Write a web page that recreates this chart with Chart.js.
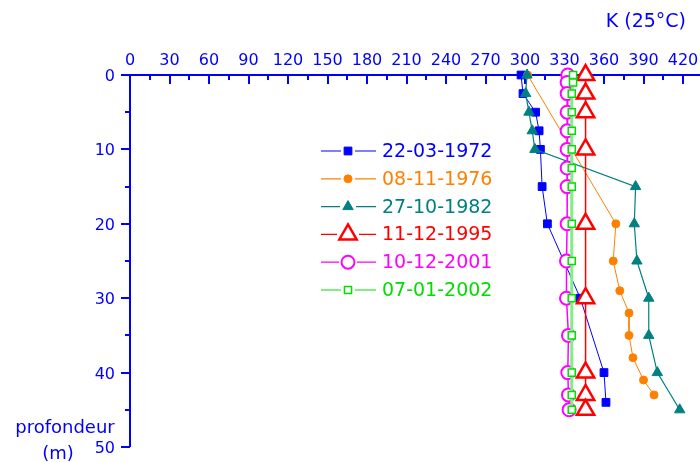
<!DOCTYPE html>
<html>
<head>
<meta charset="utf-8">
<script src="https://cdn.jsdelivr.net/npm/chart.js@4"></script>
<style>
  html, body { margin: 0; padding: 0; background: #fff; }
  #wrap { width: 700px; height: 462px; }
</style>
</head>
<body>
<div id="wrap"><canvas id="k-chart"></canvas></div>
<script>
// Данные: глубина (м) и K (25°C) для каждой даты
const labels = ['22-03-1972', '08-11-1976', '27-10-1982', '11-12-1995', '10-12-2001', '07-01-2002'];

const depth1972 = [0, 2.5, 5, 7.5, 10, 15, 20, 30, 40, 44];
const k1972 = [297, 298.5, 308, 310.7, 311.7, 313, 317, 342, 360, 361.5];

const depth1976 = [0, 20, 25, 29, 32, 35, 38, 41, 43];
const k1976 = [302, 369, 367, 372, 379, 379, 382, 390, 398];

const depth1982 = [0, 2.5, 5, 7.5, 10, 15, 20, 25, 30, 35, 40, 45];
const k1982 = [301.5, 300.5, 303, 305.5, 307.5, 384, 383, 385, 394, 394, 400.5, 417.5];

const depth1995 = [0, 2.5, 5, 10, 20, 30, 40, 43, 45];
const k1995 = [346, 346, 346, 346, 346, 346, 346, 346, 346];

const depth2001 = [0, 1, 2.5, 5, 7.5, 10, 12.5, 15, 20, 25, 30, 35, 40, 43, 45];
const k2001 = [332.5, 332, 332, 332, 332, 332, 332, 332, 332, 331.5, 331.5, 333, 332.5, 333, 333.5];

const depth2002 = [0, 1, 2.5, 5, 7.5, 10, 12.5, 15, 20, 25, 30, 35, 40, 43, 45];
const k2002 = [336.5, 336.5, 335.5, 335.5, 335.5, 335.5, 335.5, 335.5, 335.5, 335.5, 335.5, 335.5, 335.5, 335.5, 335.5];

// Деления осей
const xTicks = [0, 30, 60, 90, 120, 150, 180, 210, 240, 270, 300, 330, 360, 390, 420];
const yTicks = [0, 10, 20, 30, 40, 50];

const AXIS = '#0000ff';
const FONT = "'DejaVu Sans', sans-serif";

document.addEventListener('DOMContentLoaded', function() {
  initProfileChart();
});

/**
 * Собирает точки {x, y} из двух массивов
 */
function toPoints(depths, values) {
  return depths.map((d, i) => ({ x: values[i], y: d }));
}

/**
 * Рисует маркер легенды через helpers Chart.js
 */
function drawMarker(ctx, style, x, y) {
  if (!Chart.helpers || !Chart.helpers.drawPoint) return;
  ctx.save();
  ctx.fillStyle = style.fill;
  ctx.strokeStyle = style.stroke;
  ctx.lineWidth = style.borderWidth;
  Chart.helpers.drawPoint(ctx, { pointStyle: style.pointStyle, radius: style.radius, borderWidth: style.borderWidth, rotation: 0 }, x, y);
  ctx.restore();
}

/**
 * Плагин: оси, деления и их подписи, заголовки, легенда
 */
const axesPlugin = {
  id: 'axesPlugin',
  beforeDatasetsDraw(chart) {
    const ctx = chart.ctx;
    const area = chart.chartArea;
    const xs = chart.scales.x;
    const ys = chart.scales.y;
    ctx.save();
    ctx.strokeStyle = AXIS;
    ctx.fillStyle = AXIS;
    ctx.lineWidth = 2;

    // Верхняя ось
    ctx.beginPath();
    ctx.moveTo(area.left - 9, area.top);
    ctx.lineTo(chart.width, area.top);
    ctx.stroke();

    // Левая ось
    ctx.beginPath();
    ctx.moveTo(area.left, area.top);
    ctx.lineTo(area.left, area.bottom);
    ctx.stroke();

    // Деления по X (внутрь, вниз)
    for (let v = 0; v <= 420; v += 15) {
      const px = Math.round(xs.getPixelForValue(v));
      const len = v % 30 === 0 ? 9 : 5;
      ctx.beginPath();
      ctx.moveTo(px, area.top);
      ctx.lineTo(px, area.top + len);
      ctx.stroke();
    }

    // Деления по Y (наружу, влево)
    for (let v = 0; v <= 50; v += 5) {
      const py = Math.round(ys.getPixelForValue(v));
      const len = v % 10 === 0 ? 9 : 5;
      ctx.beginPath();
      ctx.moveTo(area.left, py);
      ctx.lineTo(area.left - len, py);
      ctx.stroke();
    }

    // Подписи делений
    ctx.font = '16px ' + FONT;
    ctx.textBaseline = 'alphabetic';
    ctx.textAlign = 'center';
    xTicks.forEach(v => {
      ctx.fillText(String(v), xs.getPixelForValue(v), area.top - 10.5);
    });
    ctx.textAlign = 'right';
    yTicks.forEach(v => {
      ctx.fillText(String(v), area.left - 15, ys.getPixelForValue(v) + 6);
    });

    // Заголовки осей
    ctx.textBaseline = 'middle';
    ctx.font = '19px ' + FONT;
    ctx.textAlign = 'right';
    ctx.fillText('K (25°C)', 686, 22);
    ctx.font = '18px ' + FONT;
    ctx.textAlign = 'center';
    ctx.fillText('profondeur', 65, 428);
    ctx.fillText('(m)', 58, 454);
    ctx.restore();
  },
  afterDatasetsDraw(chart) {
    // Легенда внутри области графика
    const ctx = chart.ctx;
    ctx.save();
    chart.data.datasets.forEach((ds, i) => {
      const y = 151 + i * 27.8;
      const mx = 348;
      const gap = ds.legendGap;
      ctx.strokeStyle = ds.legendLine;
      ctx.lineWidth = 1.2;
      ctx.beginPath();
      ctx.moveTo(321, y);
      ctx.lineTo(mx - gap, y);
      ctx.moveTo(mx + gap, y);
      ctx.lineTo(376, y);
      ctx.stroke();
      drawMarker(ctx, {
        pointStyle: ds.pointStyle,
        radius: ds.pointRadius,
        borderWidth: ds.pointBorderWidth,
        fill: ds.pointBackgroundColor,
        stroke: ds.pointBorderColor
      }, mx, y);
      ctx.fillStyle = ds.legendText;
      ctx.font = '19px ' + FONT;
      ctx.textAlign = 'left';
      ctx.textBaseline = 'middle';
      ctx.fillText(ds.label, 382, y + 1);
    });
    ctx.restore();
  }
};

/**
 * Инициализация графика профиля
 */
function initProfileChart() {
  const canvas = document.getElementById('k-chart');
  if (!canvas) return;

  const datasets = [
    {
      label: labels[0],
      data: toPoints(depth1972, k1972),
      borderColor: '#0000ff', borderWidth: 1,
      pointStyle: 'rect', pointRadius: 5.5, pointBorderWidth: 1,
      pointBackgroundColor: '#0000ff', pointBorderColor: '#0000ff',
      legendLine: '#0000ff', legendText: '#0000ff', legendGap: 7,
      order: 6
    },
    {
      label: labels[1],
      data: toPoints(depth1976, k1976),
      borderColor: '#ff8000', borderWidth: 1,
      pointStyle: 'circle', pointRadius: 4, pointBorderWidth: 1,
      pointBackgroundColor: '#ff8000', pointBorderColor: '#ff8000',
      legendLine: '#ff8000', legendText: '#ff8000', legendGap: 7,
      order: 5
    },
    {
      label: labels[2],
      data: toPoints(depth1982, k1982),
      borderColor: '#008080', borderWidth: 1.2,
      pointStyle: 'triangle', pointRadius: 6, pointBorderWidth: 1,
      pointBackgroundColor: '#008080', pointBorderColor: '#008080',
      legendLine: '#008080', legendText: '#008080', legendGap: 8,
      order: 4
    },
    {
      label: labels[3],
      data: toPoints(depth1995, k1995),
      borderColor: '#ff0000', borderWidth: 1.5,
      pointStyle: 'triangle', pointRadius: 10, pointBorderWidth: 2.5,
      pointBackgroundColor: '#ffffff', pointBorderColor: '#ff0000',
      legendLine: '#ff0000', legendText: '#ff0000', legendGap: 11,
      order: 3
    },
    {
      label: labels[4],
      data: toPoints(depth2001, k2001),
      borderColor: '#ff00ff', borderWidth: 1.5,
      pointStyle: 'circle', pointRadius: 6.5, pointBorderWidth: 2,
      pointBackgroundColor: '#ffffff', pointBorderColor: '#ff00ff',
      legendLine: '#ff00ff', legendText: '#ff00ff', legendGap: 9,
      order: 2
    },
    {
      label: labels[5],
      data: toPoints(depth2002, k2002),
      borderColor: '#80f080', borderWidth: 3,
      pointStyle: 'rect', pointRadius: 5, pointBorderWidth: 1.5,
      pointBackgroundColor: '#ffffff', pointBorderColor: '#00e000',
      legendLine: '#00e000', legendText: '#00dd00', legendGap: 7,
      order: 1
    }
  ];
  datasets.forEach(ds => {
    ds.showLine = true;
    ds.clip = false;
    ds.pointHoverRadius = ds.pointRadius;
  });

  new Chart(canvas, {
    type: 'scatter',
    data: { datasets: datasets },
    options: {
      responsive: true,
      maintainAspectRatio: false,
      animation: false,
      layout: { padding: { left: 0, top: 0, right: 17, bottom: 15 } },
      plugins: {
        legend: { display: false },
        tooltip: { enabled: false },
        title: { display: false }
      },
      scales: {
        x: {
          type: 'linear',
          position: 'top',
          min: 0,
          max: 420,
          afterFit(scale) { scale.height = 75; },
          afterBuildTicks(scale) { scale.ticks = xTicks.map(v => ({ value: v })); },
          grid: { display: false, drawTicks: false },
          border: { display: false },
          ticks: { display: false }
        },
        y: {
          type: 'linear',
          reverse: true,
          min: 0,
          max: 50,
          afterFit(scale) { scale.width = 130; },
          afterBuildTicks(scale) { scale.ticks = yTicks.map(v => ({ value: v })); },
          grid: { display: false, drawTicks: false },
          border: { display: false },
          ticks: { display: false }
        }
      }
    },
    plugins: [axesPlugin]
  });
}
</script>
</body>
</html>
